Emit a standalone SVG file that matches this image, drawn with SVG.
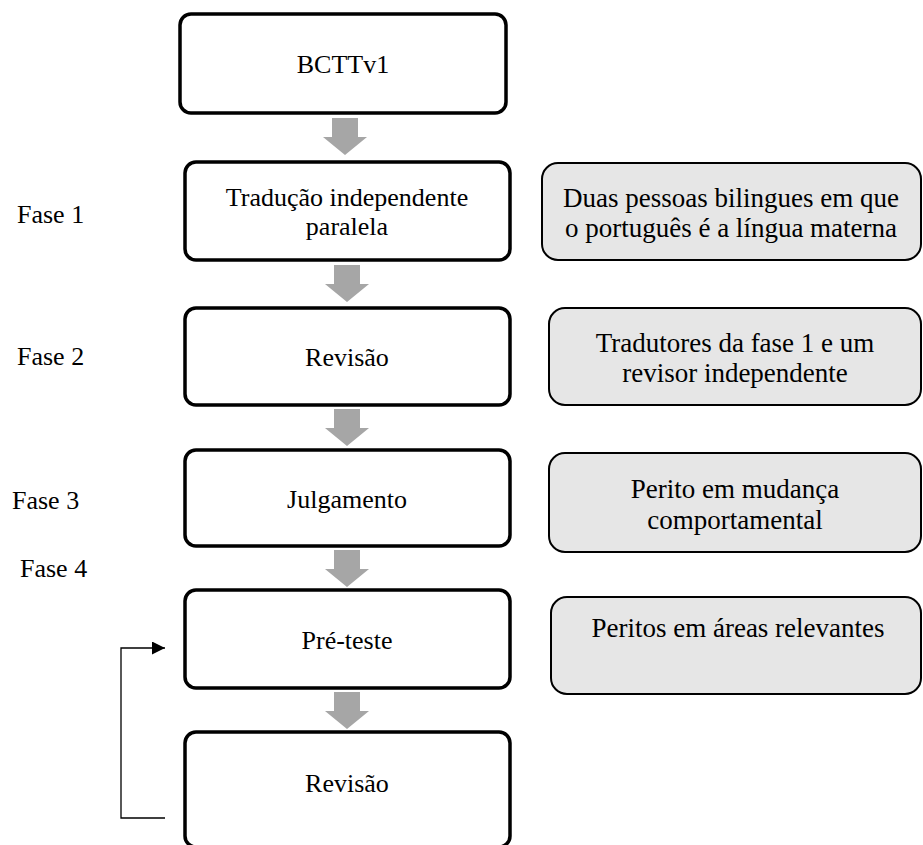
<svg xmlns="http://www.w3.org/2000/svg" width="923" height="845" viewBox="0 0 923 845">
  <style>
    text { font-family: "Liberation Serif", "Times New Roman", serif; fill: #000; }
    .step { fill: #fff; stroke: #000; stroke-width: 3.5; }
    .who { fill: #e6e6e6; stroke: #000; stroke-width: 2; }
    .main { font-size: 26px; text-anchor: middle; }
    .side { font-size: 27px; text-anchor: middle; }
    .phase { font-size: 26px; }
    .flow { fill: #a6a6a6; }
    .loop { fill: none; stroke: #000; stroke-width: 1.3; }
  </style>
  <defs>
    <marker id="head" viewBox="0 0 10 10" refX="10" refY="5" markerWidth="15" markerHeight="13" markerUnits="userSpaceOnUse" orient="auto">
      <path d="M0,0 L10,5 L0,10 Z" fill="#000"/>
    </marker>
    <!-- block arrow pointing down, origin at top centre of shaft -->
    <path id="down" d="M-13,0 H13 V19 H22 L0,37 L-22,19 H-13 Z"/>
  </defs>

  <!-- phase labels -->
  <g id="phases">
    <text class="phase" x="17" y="223">Fase 1</text>
    <text class="phase" x="17" y="365">Fase 2</text>
    <text class="phase" x="12" y="509">Fase 3</text>
    <text class="phase" x="20" y="577">Fase 4</text>
  </g>

  <!-- main process steps -->
  <g id="step-bcttv1">
    <rect class="step" x="180" y="14" width="326" height="99" rx="11"/>
    <text class="main" x="343" y="73">BCTTv1</text>
  </g>
  <g id="step-traducao">
    <rect class="step" x="185" y="162" width="325" height="98" rx="11"/>
    <text class="main" x="347" y="206">Tradução independente</text>
    <text class="main" x="347" y="235">paralela</text>
  </g>
  <g id="step-revisao1">
    <rect class="step" x="185" y="308" width="325" height="97" rx="11"/>
    <text class="main" x="347" y="366">Revisão</text>
  </g>
  <g id="step-julgamento">
    <rect class="step" x="185" y="450" width="325" height="96" rx="11"/>
    <text class="main" x="347" y="508">Julgamento</text>
  </g>
  <g id="step-preteste">
    <rect class="step" x="185" y="590" width="325" height="98" rx="11"/>
    <text class="main" x="347" y="649">Pré-teste</text>
  </g>
  <g id="step-revisao2">
    <rect class="step" x="185" y="732" width="325" height="115" rx="11"/>
    <text class="main" x="347" y="792">Revisão</text>
  </g>

  <!-- who carries out each phase -->
  <g id="who-fase1">
    <rect class="who" x="542" y="163" width="379" height="97" rx="16"/>
    <text class="side" x="731" y="207">Duas pessoas bilingues em que</text>
    <text class="side" x="731" y="237">o português é a língua materna</text>
  </g>
  <g id="who-fase2">
    <rect class="who" x="549" y="308" width="372" height="97" rx="16"/>
    <text class="side" x="735" y="352">Tradutores da fase 1 e um</text>
    <text class="side" x="735" y="382">revisor independente</text>
  </g>
  <g id="who-fase3">
    <rect class="who" x="549" y="453" width="372" height="99" rx="16"/>
    <text class="side" x="735" y="498">Perito em mudança</text>
    <text class="side" x="735" y="529">comportamental</text>
  </g>
  <g id="who-fase4">
    <rect class="who" x="551" y="597" width="370" height="97" rx="16"/>
    <text class="side" x="738" y="637">Peritos em áreas relevantes</text>
  </g>

  <!-- connectors -->
  <g id="connectors">
    <use href="#down" class="flow" x="345" y="118"/>
    <use href="#down" class="flow" x="347" y="265"/>
    <use href="#down" class="flow" x="347" y="409"/>
    <use href="#down" class="flow" x="347" y="550"/>
    <use href="#down" class="flow" x="347" y="692"/>
    <path class="loop" d="M165,818 H121 V648 H165" marker-end="url(#head)"/>
  </g>
</svg>
